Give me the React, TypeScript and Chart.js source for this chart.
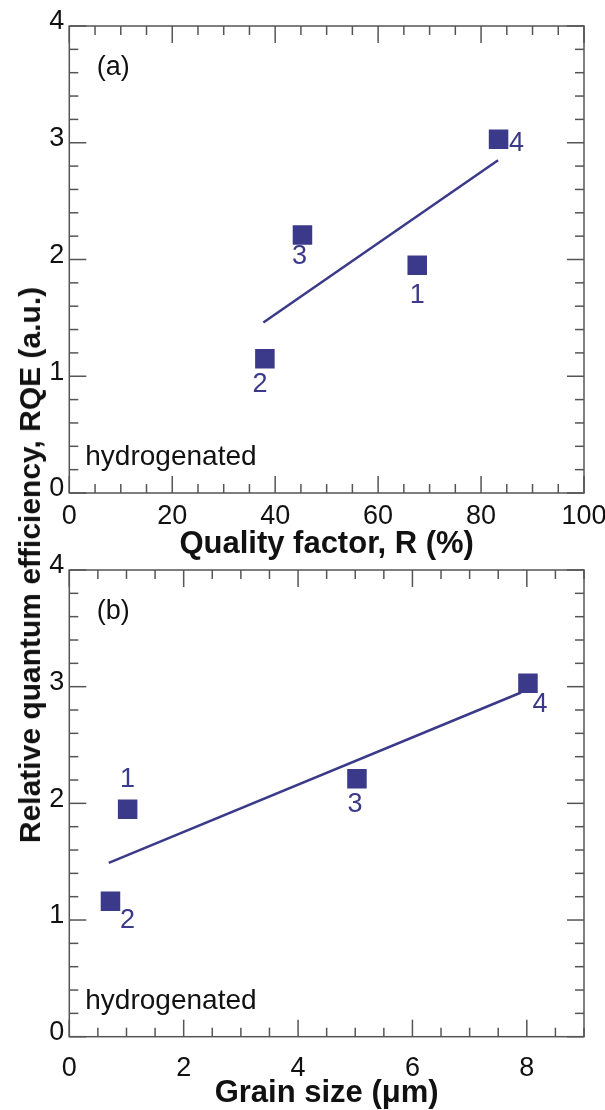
import React, { useEffect, useRef } from 'react';
import { Chart, registerables } from 'chart.js';

Chart.register(...registerables);

// ---------- data ----------
const sampleIds = ['1', '2', '3', '4'];
const qualityFactor = [67.6, 38.0, 45.3, 83.4]; // R (%)
const rqeA = [1.95, 1.15, 2.21, 3.03];
const fitAx = [37.7, 83.3];
const fitAy = [1.46, 2.85];

const grainSize = [1.02, 0.72, 5.03, 8.02]; // µm
const rqeB = [1.95, 1.16, 2.21, 3.03];
const fitBx = [0.69, 7.9];
const fitBy = [1.49, 2.95];

const xTicksA = [0, 20, 40, 60, 80, 100];
const xTicksB = [0, 2, 4, 6, 8];
const yTicks = [0, 1, 2, 3, 4];

// ---------- styles ----------
const NAVY = '#3b3989';
const FRAME = '#555555';
const TEXT = '#111111';
const FONT = "'Liberation Sans', Arial, Helvetica, sans-serif";

type PanelCfg = {
  top: number;
  height: number;
  padTop: number;
  areaBottom: number; // absolute in page
  xs: number[];
  ys: number[];
  fx: number[];
  fy: number[];
  xMax: number;
  xTicks: number[];
  xMinor: number;
  xTitle: string;
  tag: string;
  labelOffsets: number[][];
  tickPad: number;
  titlePadBottom: number;
};

function minorValues(min: number, max: number, step: number, major: number) {
  const out: number[] = [];
  const n = Math.round((max - min) / step);
  for (let i = 0; i <= n; i++) {
    const v = min + i * step;
    const r = v / major;
    if (Math.abs(r - Math.round(r)) > 1e-6) out.push(v);
  }
  return out;
}

function Panel({ cfg }: { cfg: PanelCfg }) {
  const ref = useRef<HTMLCanvasElement | null>(null);
  useEffect(() => {
    if (!ref.current) return;
    const framePlugin = {
      id: 'frameTicks',
      afterDraw(chart: any) {
        const { ctx, chartArea: a, scales } = chart;
        const sx = scales.x;
        const sy = scales.y;
        const line = (x1: number, y1: number, x2: number, y2: number) => {
          ctx.beginPath();
          ctx.moveTo(x1, y1);
          ctx.lineTo(x2, y2);
          ctx.stroke();
        };
        ctx.save();
        ctx.strokeStyle = FRAME;
        ctx.lineWidth = 1.5;
        const MAJ = 17;
        const MIN = 9;
        cfg.xTicks.forEach((v) => {
          const p = sx.getPixelForValue(v);
          line(p, a.bottom, p, a.bottom - MAJ);
          line(p, a.top, p, a.top + MAJ);
        });
        minorValues(0, cfg.xMax, cfg.xMinor, cfg.xTicks[1] - cfg.xTicks[0]).forEach((v) => {
          const p = sx.getPixelForValue(v);
          line(p, a.bottom, p, a.bottom - MIN);
          line(p, a.top, p, a.top + MIN);
        });
        yTicks.forEach((v) => {
          const p = sy.getPixelForValue(v);
          line(a.left, p, a.left + MAJ, p);
          line(a.right, p, a.right - MAJ, p);
        });
        minorValues(0, 4, 0.2, 1).forEach((v) => {
          const p = sy.getPixelForValue(v);
          line(a.left, p, a.left + MIN, p);
          line(a.right, p, a.right - MIN, p);
        });
        ctx.strokeRect(a.left, a.top, a.right - a.left, a.bottom - a.top);

        // point labels
        const meta = chart.getDatasetMeta(0);
        ctx.fillStyle = NAVY;
        ctx.font = `27px ${FONT}`;
        ctx.textAlign = 'center';
        ctx.textBaseline = 'middle';
        meta.data.forEach((pt: any, i: number) => {
          const off = cfg.labelOffsets[i];
          ctx.fillText(sampleIds[i], pt.x + off[0], pt.y + off[1]);
        });

        // annotations
        ctx.fillStyle = TEXT;
        ctx.font = `27px ${FONT}`;
        ctx.fillText(cfg.tag, a.left + 44, a.top + 42);
        ctx.textAlign = 'left';
        ctx.textBaseline = 'alphabetic';
        ctx.font = `28px ${FONT}`;
        ctx.fillText('hydrogenated', a.left + 16, a.bottom - 28);
        ctx.restore();
      },
    };

    const chart = new Chart(ref.current, {
      type: 'scatter',
      data: {
        datasets: [
          {
            data: cfg.xs.map((x, i) => ({ x, y: cfg.ys[i] })),
            pointStyle: 'rect',
            pointRadius: 13.8,
            pointHoverRadius: 13.8,
            backgroundColor: NAVY,
            borderColor: NAVY,
            borderWidth: 0,
            showLine: false,
          },
          {
            data: cfg.fx.map((x, i) => ({ x, y: cfg.fy[i] })),
            showLine: true,
            pointRadius: 0,
            borderColor: NAVY,
            borderWidth: 2.5,
            fill: false,
          },
        ],
      },
      options: {
        animation: false,
        responsive: false,
        devicePixelRatio: 1,
        events: [],
        layout: { padding: { left: 0, right: 21, top: cfg.padTop, bottom: 0 } },
        plugins: { legend: { display: false }, tooltip: { enabled: false } },
        scales: {
          x: {
            type: 'linear',
            min: 0,
            max: cfg.xMax,
            grid: { display: false, drawTicks: false },
            border: { display: false },
            afterBuildTicks: (s: any) => {
              s.ticks = cfg.xTicks.map((v) => ({ value: v }));
            },
            afterFit: (s: any) => {
              s.height = cfg.top + cfg.height - cfg.areaBottom;
              s.paddingLeft = 0;
              s.paddingRight = 0;
            },
            ticks: {
              padding: cfg.tickPad,
              color: TEXT,
              font: { family: FONT, size: 27 },
              maxRotation: 0,
              autoSkip: false,
            },
            title: {
              display: true,
              text: cfg.xTitle,
              color: TEXT,
              font: { family: FONT, size: 31, weight: 'bold', lineHeight: 1 },
              padding: { top: 0, bottom: cfg.titlePadBottom },
            },
          },
          y: {
            type: 'linear',
            min: 0,
            max: 4,
            grid: { display: false, drawTicks: false },
            border: { display: false },
            afterBuildTicks: (s: any) => {
              s.ticks = yTicks.map((v) => ({ value: v }));
            },
            afterFit: (s: any) => {
              s.width = 69.3;
              s.paddingTop = 0;
              s.paddingBottom = 0;
            },
            ticks: {
              padding: 5,
              labelOffset: -4,
              color: TEXT,
              font: { family: FONT, size: 27 },
              autoSkip: false,
            },
          },
        },
      },
      plugins: [framePlugin],
    } as any);
    return () => chart.destroy();
  }, [cfg]);
  return (
    <canvas
      ref={ref}
      width={605}
      height={cfg.height}
      style={{ position: 'absolute', left: 0, top: cfg.top, width: 605, height: cfg.height }}
    />
  );
}

const panelA: PanelCfg = {
  top: 0,
  height: 560,
  padTop: 26,
  areaBottom: 493,
  xs: qualityFactor,
  ys: rqeA,
  fx: fitAx,
  fy: fitAy,
  xMax: 100,
  xTicks: xTicksA,
  xMinor: 5,
  xTitle: 'Quality factor, R (%)',
  tag: '(a)',
  labelOffsets: [[0, 30], [-5, 26], [-3, 22], [18, 4]],
  tickPad: 7,
  titlePadBottom: 0,
};

const panelB: PanelCfg = {
  top: 545,
  height: 565,
  padTop: 25,
  areaBottom: 1036.7,
  xs: grainSize,
  ys: rqeB,
  fx: fitBx,
  fy: fitBy,
  xMax: 9,
  xTicks: xTicksB,
  xMinor: 0.5,
  xTitle: 'Grain size (\u03bcm)',
  tag: '(b)',
  labelOffsets: [[0, -30], [17, 19], [-2, 26], [12, 21]],
  tickPad: 16,
  titlePadBottom: 1,
};

export default function App() {
  return (
    <div
      style={{
        position: 'absolute',
        left: 0,
        top: 0,
        width: 605,
        height: 1110,
        background: '#ffffff',
        overflow: 'hidden',
      }}
    >
      <Panel cfg={panelA} />
      <Panel cfg={panelB} />
      <div
        style={{
          position: 'absolute',
          left: 30,
          top: 565,
          transform: 'translate(-50%, -50%) rotate(-90deg)',
          whiteSpace: 'nowrap',
          font: `bold 30px ${FONT}`,
          color: TEXT,
        }}
      >
        Relative quantum efficiency, RQE (a.u.)
      </div>
    </div>
  );
}
